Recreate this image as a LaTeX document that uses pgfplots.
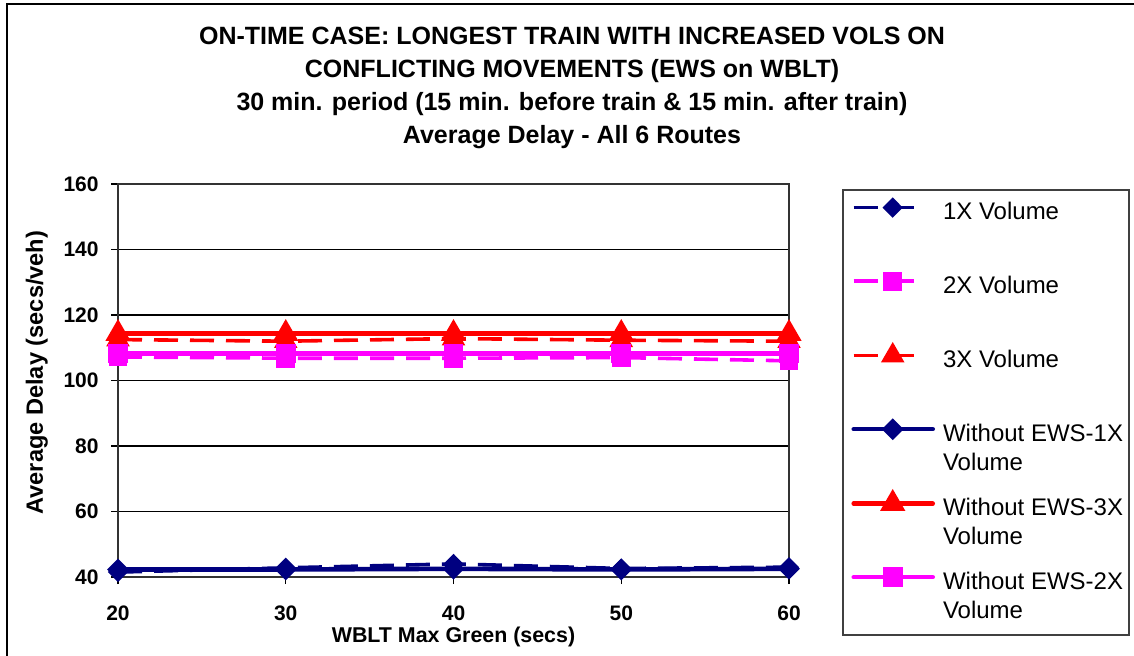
\documentclass[border=0pt]{standalone}
\usepackage{pgfplots}
\pgfplotsset{compat=1.18}
\usepackage{fontspec}
\setmainfont{Liberation Sans}

\definecolor{xlnavy}{RGB}{0,0,128}
\definecolor{xlmag}{RGB}{255,0,255}
\definecolor{xlred}{RGB}{255,0,0}

\newcommand{\entry}[1]{\parbox[t]{96pt}{\raggedright #1}}

\pgfplotsset{
  dashleg/.style={legend image code/.code={
    \path[draw=none] (0pt,2.5pt) -- (40pt,2.5pt);
    \draw[mark repeat=2, mark phase=2, ##1]
      plot coordinates {(0pt,2.5pt) (19.5pt,2.5pt) (33pt,2.5pt)};}},
  solidleg/.style={legend image code/.code={
    \path[draw=none] (0pt,2.5pt) -- (40pt,2.5pt);
    \draw[mark repeat=2, mark phase=2, line cap=round, ##1]
      plot coordinates {(0pt,2.5pt) (19.5pt,2.5pt) (39.5pt,2.5pt)};}},
  dashser/.style={line width=1.8pt, dash pattern=on 12pt off 6pt, dashleg},
  solidser/.style={line width=2.3pt, solid, solidleg},
}

\begin{document}
\begin{tikzpicture}
\useasboundingbox (0pt,0pt) rectangle (567pt,-328pt);
\draw[black, line width=0.6pt] (3.5pt,-330pt) -- (3.5pt,-2pt) -- (570pt,-2pt);

\node[font=\bfseries\fontsize{12.5}{16.6}\selectfont, align=center, anchor=base]
  at (286pt,-72pt)
  {ON-TIME CASE: LONGEST TRAIN WITH INCREASED VOLS ON\\
   CONFLICTING MOVEMENTS (EWS on WBLT)\\
   30 min. period (15 min. before train \& 15 min. after train)\\
   Average Delay - All 6 Routes};

\begin{axis}[
  at={(59pt,-288.5pt)}, anchor=south west,
  scale only axis, width=335.5pt, height=196.5pt,
  xmin=20, xmax=60, ymin=40, ymax=160,
  xtick={20,30,40,50,60}, ytick={40,60,80,100,120,140,160},
  tick align=outside, major tick length=3.5pt,
  xtick pos=bottom, ytick pos=left,
  tick style={black, line width=0.6pt},
  axis line style={black!80, line width=0.8pt},
  ymajorgrids, grid style={black, line width=0.6pt},
  /pgf/number format/assume math mode=true,
  ticklabel style={font=\bfseries\fontsize{10.5}{12}\selectfont},
  xticklabel style={anchor=base, inner sep=0pt, yshift=-18pt},
  yticklabel style={anchor=east, inner sep=0pt, xshift=-6pt},
  xlabel={WBLT Max Green (secs)},
  ylabel={Average Delay (secs/veh)},
  every axis x label/.style={at={(axis description cs:0.5,-0.1654)}, anchor=base,
    font=\bfseries\fontsize{10.7}{12}\selectfont},
  every axis y label/.style={at={(axis description cs:-0.1118,0.52)}, rotate=90, anchor=base,
    font=\bfseries\fontsize{11.8}{13}\selectfont},
  legend style={at={(1.0805,0.9847)}, anchor=north west,
    draw=none, fill=none,
    font=\fontsize{12}{14.5}\selectfont,
    inner xsep=4pt, inner ysep=4pt, row sep=22.6pt, column sep=2pt},
  legend cell align=left,
]
\addplot[dashser, color=xlnavy, mark=diamond*, mark size=3.8pt,
  mark options={solid, xscale=1.33, fill=xlnavy}]
  coordinates {(20,41.5) (30,42.8) (40,44.0) (50,42.6) (60,43.0)};
\addlegendentry{\entry{1X Volume}}
\addplot[dashser, color=xlmag, mark=square*, mark size=3.75pt,
  mark options={solid, fill=xlmag}]
  coordinates {(20,107.2) (30,106.8) (40,106.8) (50,107.0) (60,106.0)};
\addlegendentry{\entry{2X Volume}}
\addplot[dashser, color=xlred, mark=triangle*, mark size=5pt,
  mark options={solid, fill=xlred}]
  coordinates {(20,112.5) (30,112.0) (40,112.8) (50,112.3) (60,112.0)};
\addlegendentry{\entry{3X Volume}}
\addplot[solidser, color=xlnavy, mark=diamond*, mark size=3.8pt,
  mark options={solid, xscale=1.33, fill=xlnavy}]
  coordinates {(20,42.3) (30,42.3) (40,42.5) (50,42.3) (60,42.5)};
\addlegendentry{\entry{Without EWS-1X\\Volume}}
\addplot[solidser, color=xlred, mark=triangle*, mark size=5pt,
  mark options={solid, fill=xlred}]
  coordinates {(20,114.3) (30,114.3) (40,114.3) (50,114.3) (60,114.3)};
\addlegendentry{\entry{Without EWS-3X\\Volume}}
\addplot[solidser, color=xlmag, mark=square*, mark size=3.75pt,
  mark options={solid, fill=xlmag}]
  coordinates {(20,108.3) (30,108.3) (40,108.3) (50,108.3) (60,108.3)};
\addlegendentry{\entry{Without EWS-2X\\Volume}}
\end{axis}

% legend frame
\draw[black!75, line width=0.8pt] (421.5pt,-95pt) rectangle (564.5pt,-317.5pt);
\end{tikzpicture}
\end{document}
